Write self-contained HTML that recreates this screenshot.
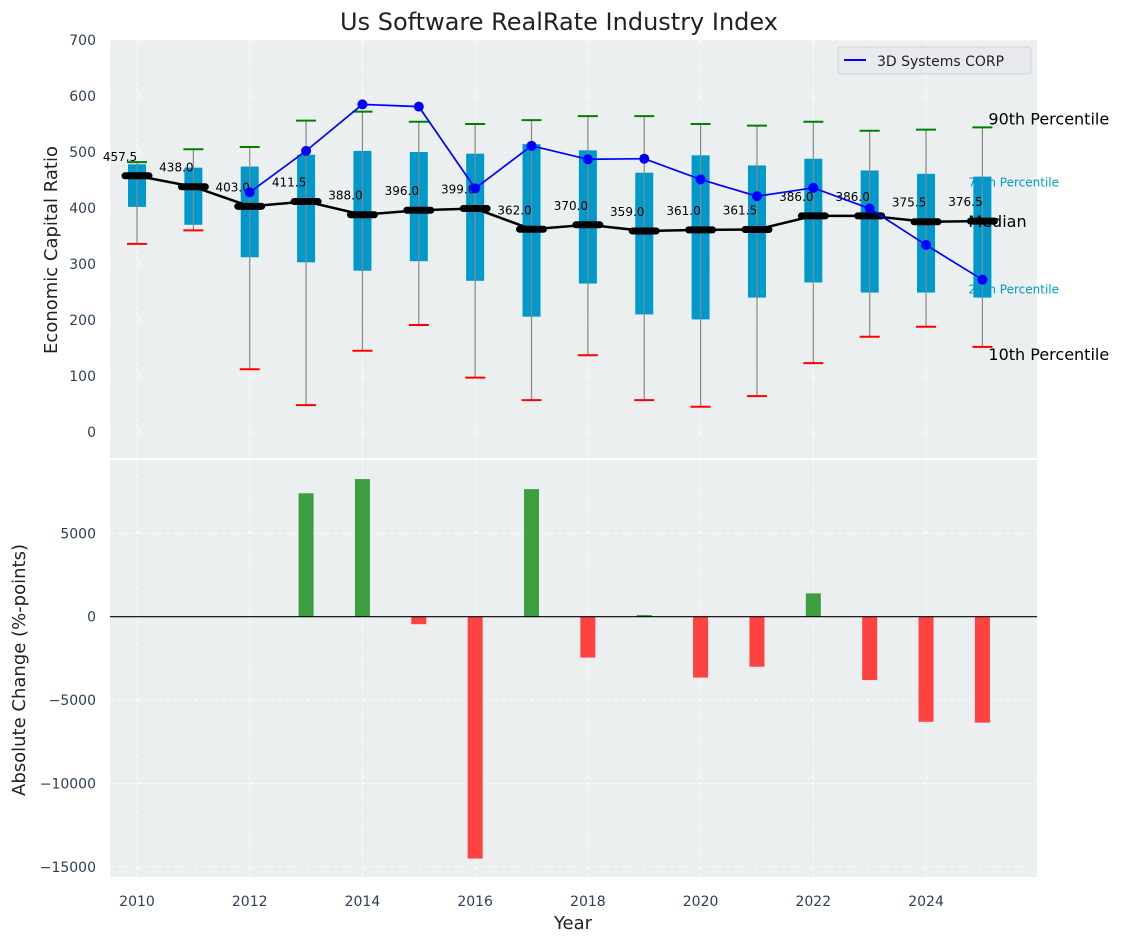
<!DOCTYPE html>
<html><head><meta charset="utf-8">
<style>
body{margin:0;background:#fff;font-family:"Liberation Sans","DejaVu Sans",sans-serif;}
svg text{font-family:"DejaVu Sans","Liberation Sans",sans-serif;}
</style></head>
<body>
<svg id="c" width="1123" height="942" xmlns="http://www.w3.org/2000/svg">
<text x="559" y="30" text-anchor="middle" font-size="24" fill="#222">Us Software RealRate Industry Index</text>
<rect x="110" y="40" width="927" height="418" fill="#eceff0"/>
<rect x="110" y="460" width="927" height="417" fill="#eceff0"/>
<g id="g"></g>
<text transform="translate(57,250) rotate(-90)" text-anchor="middle" font-size="18" fill="#222">Economic Capital Ratio</text>
<text transform="translate(25,670) rotate(-90)" text-anchor="middle" font-size="18" fill="#222">Absolute Change (%-points)</text>
<text x="573" y="929" text-anchor="middle" font-size="18" fill="#222">Year</text>
<g>
<rect x="838" y="47" width="193" height="27" rx="3" fill="#e8eaee" stroke="#cfd3d8"/>
<line x1="844" y1="60" x2="866" y2="60" stroke="#0000ff" stroke-width="2"/>
<text x="877" y="66" font-size="14" fill="#222">3D Systems CORP</text>
</g>
</svg>
<script>
const years=[2010,2011,2012,2013,2014,2015,2016,2017,2018,2019,2020,2021,2022,2023,2024,2025];
const p10=[336,360,112,48,145,191,97,57,137,57,45,64,123,170,188,152];
const q1=[402,370,312,303,288,305,270,206,265,210,201,240,267,249,249,240];
const median=[457.5,438,403,411.5,388,396,399,362,370,359,361,361.5,386,386,375.5,376.5];
const q3=[478,472,474,495,502,500,497,514,503,463,494,476,488,467,461,456];
const p90=[482,505,509,556,572,554,550,557,564,564,550,547,554,538,540,544];
const companyYears=[2012,2013,2014,2015,2016,2017,2018,2019,2020,2021,2022,2023,2024,2025];
const company=[428,502,585,581,435,511,487,488,451,421,436,399,334,272];
const change=[0,0,0,7400,8250,-450,-14500,7650,-2450,100,-3650,-3000,1400,-3800,-6300,-6350];
const topTicks=[0,100,200,300,400,500,600,700];
const botTicks=[-15000,-10000,-5000,0,5000];
const xTicks=[2010,2012,2014,2016,2018,2020,2022,2024];

const NS="http://www.w3.org/2000/svg";
const g=document.getElementById('g');
function X(v){return 137+(v-2010)*56.36;}
function YT(v){return 432-v*0.56;}
function YB(v){return 616.7-v*0.01668;}
function mk(t,a,name,parent){const e=document.createElementNS(NS,t);for(const k in a)e.setAttribute(k,a[k]);


(parent||g).appendChild(e);return e;}
function tx(x,y,s,name,a){const e=mk('text',Object.assign({x:x,y:y},a),name);e.textContent=s;return e;}

xTicks.forEach(v=>{
 mk('line',{x1:X(v),x2:X(v),y1:40,y2:458,stroke:'#fff','stroke-dasharray':'4,3','stroke-width':0.8},'top-x-grid');
 mk('line',{x1:X(v),x2:X(v),y1:460,y2:877,stroke:'#fff','stroke-dasharray':'4,3','stroke-width':0.8},'bottom-x-grid');
 tx(X(v),906,String(v),'x-tick-label',{'text-anchor':'middle','font-size':14,fill:'#2e3f55'});
});
topTicks.forEach(v=>{
 mk('line',{x1:110,x2:1037,y1:YT(v),y2:YT(v),stroke:'#fff','stroke-dasharray':'4,3','stroke-width':0.8},'top-y-grid');
 tx(96,YT(v)+5,String(v),'top-y-tick-label',{'text-anchor':'end','font-size':14,fill:'#2e3f55'});
});
botTicks.forEach(v=>{
 mk('line',{x1:110,x2:1037,y1:YB(v),y2:YB(v),stroke:'#fff','stroke-dasharray':'4,3','stroke-width':0.8},'bottom-y-grid');
 tx(96,YB(v)+5,(v<0?'\u2212'+(-v):String(v)),'bottom-y-tick-label',{'text-anchor':'end','font-size':14,fill:'#2e3f55'});
});

years.forEach((y,i)=>{
 const x=X(y);
 mk('rect',{x:x-9,y:YT(q3[i]),width:18,height:YT(q1[i])-YT(q3[i]),fill:'#0099cc'},'iqr-box-'+y);
 mk('line',{x1:x,x2:x,y1:YT(p90[i]),y2:YT(p10[i]),stroke:'#888','stroke-width':1.2},'whisker-'+y);
 mk('line',{x1:x-10,x2:x+10,y1:YT(p90[i]),y2:YT(p90[i]),stroke:'green','stroke-width':2},'p90-cap-'+y);
 mk('line',{x1:x-10,x2:x+10,y1:YT(p10[i]),y2:YT(p10[i]),stroke:'red','stroke-width':2},'p10-cap-'+y);
});
mk('polyline',{points:years.map((y,i)=>X(y)+','+YT(median[i])).join(' '),fill:'none',stroke:'#000','stroke-width':2.5},'median-line');
years.forEach((y,i)=>{
 mk('line',{x1:X(y)-12,x2:X(y)+12,y1:YT(median[i]),y2:YT(median[i]),stroke:'#000','stroke-width':7,'stroke-linecap':'round'},'median-marker-'+y);
 tx(X(y)-17,YT(median[i])-15,median[i].toFixed(1),'median-label-'+y,{'text-anchor':'middle','font-size':12,fill:'#000'});
});
mk('polyline',{points:companyYears.map((y,i)=>X(y)+','+YT(company[i])).join(' '),fill:'none',stroke:'#0000ff','stroke-width':1.7},'company-line');
companyYears.forEach((y,i)=>mk('circle',{cx:X(y),cy:YT(company[i]),r:5,fill:'#0000ff'},'company-point-'+y));
const last=years.length-1, lx=X(years[last]);
tx(lx+6,YT(p90[last])-3,'90th Percentile','p90-label',{'font-size':16,fill:'#000'});
tx(lx+6,YT(p10[last])+13,'10th Percentile','p10-label',{'font-size':16,fill:'#000'});
tx(lx-14,YT(q3[last])+10,'75th Percentile','q3-label',{'font-size':12,fill:'#0099cc'});
tx(lx-14,YT(q1[last])-4,'25th Percentile','q1-label',{'font-size':12,fill:'#0099cc'});
tx(lx-14,YT(median[last])+6,'Median','median-side-label',{'font-size':16,fill:'#000'});

years.forEach((y,i)=>{
 const v=change[i]; if(v===0)return;
 const y0=YB(Math.max(v,0)), h=Math.abs(YB(v)-YB(0));
 mk('rect',{x:X(y)-7.5,y:y0,width:15,height:h,fill:v>0?'#2e9632':'#ff3333','fill-opacity':0.92},'change-bar-'+y);
});
mk('line',{x1:110,x2:1037,y1:YB(0),y2:YB(0),stroke:'#000','stroke-width':1.2},'zero-line');
</script>
</body></html>
